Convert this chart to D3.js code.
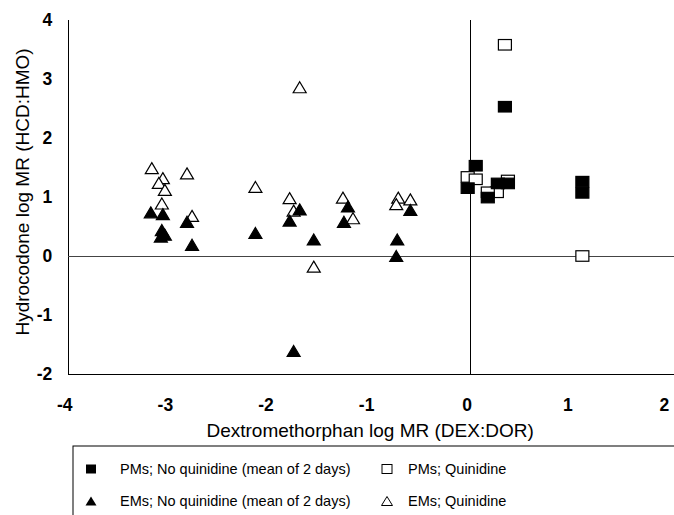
<!DOCTYPE html>
<html><head><meta charset="utf-8">
<script src="https://cdn.jsdelivr.net/npm/d3@7"></script>
<style>body{margin:0;background:#fff}svg{display:block}text{font-family:"Liberation Sans",Arial,sans-serif;fill:#000}</style>
</head><body>
<svg id="c" width="674" height="515"></svg>
<script>
// Data (x = Dextromethorphan log MR, y = Hydrocodone log MR)
const pmNoQx = [0.05, -0.03, 0.27, 0.37, 0.17, 0.34, 1.11, 1.11];
const pmNoQy = [1.53, 1.15, 1.23, 1.23, 0.99, 2.53, 1.26, 1.07];
const pmQx = [-0.03, 0.05, 0.37, 0.26, 0.17, 0.34, 1.11];
const pmQy = [1.34, 1.30, 1.28, 1.08, 1.08, 3.58, 0.00];
const emNoQx = [-3.18, -3.06, -2.82, -3.07, -3.04, -3.08, -2.77, -2.14, -1.70, -1.80, -1.56, -1.22, -1.26, -0.60, -0.73, -0.74, -1.76];
const emNoQy = [0.74, 0.71, 0.58, 0.44, 0.36, 0.33, 0.19, 0.39, 0.79, 0.60, 0.28, 0.84, 0.58, 0.78, 0.28, 0.00, -1.61];
const emQx = [-3.17, -2.82, -3.06, -3.10, -3.04, -3.07, -2.77, -2.14, -1.80, -1.76, -1.27, -1.56, -1.17, -0.72, -0.74, -0.60, -1.70];
const emQy = [1.49, 1.40, 1.32, 1.24, 1.12, 0.89, 0.68, 1.17, 0.98, 0.77, 0.99, -0.18, 0.64, 0.99, 0.88, 0.96, 2.86];
const xTicks = [-4, -3, -2, -1, 0, 1, 2];
const yTicks = [-2, -1, 0, 1, 2, 3, 4];
const xTitle = "Dextromethorphan log MR (DEX:DOR)";
const yTitle = "Hydrocodone log MR (HCD:HMO)";
const legendLabels = ["PMs; No quinidine (mean of 2 days)", "PMs; Quinidine", "EMs; No quinidine (mean of 2 days)", "EMs; Quinidine"];

const svg = d3.select("#c");
const x = d3.scaleLinear().domain([-4, 2]).range([68.3, 671.9]);
const y = d3.scaleLinear().domain([-2, 4]).range([374, 20]);
const fmt = d => String(d);

// axes
const gx = svg.append("g").attr("transform", `translate(0,${y(-2)})`)
  .call(d3.axisBottom(x).tickValues(xTicks).tickSize(0).tickPadding(25).tickFormat(fmt));
gx.select(".domain").remove();
gx.selectAll("text").style("font-size", "17.5px").style("font-weight", "bold").style("font-family", "Liberation Sans, Arial, sans-serif")
  .attr("dx", d => d === 2 ? -8 : -4);
const gy = svg.append("g").attr("transform", `translate(${x(-4)},0)`)
  .call(d3.axisLeft(y).tickValues(yTicks).tickSize(0).tickPadding(16).tickFormat(fmt));
gy.select(".domain").remove();
gy.selectAll("text").style("font-size", "17.5px").style("font-weight", "bold").style("font-family", "Liberation Sans, Arial, sans-serif");

const line = (x1, y1, x2, y2) => svg.append("line").attr("x1", x1).attr("y1", y1).attr("x2", x2).attr("y2", y2)
  .attr("stroke", "#000").attr("stroke-width", 1).attr("shape-rendering", "crispEdges");
line(x(-4), y(4), x(-4), y(-2));
line(x(-4), y(-2), 674, y(-2));
line(x(-4), y(0), 674, y(0)).attr("stroke", "#444");
line(x(0), y(4), x(0), y(-2));

// titles
svg.append("text").attr("x", (x(-4) + x(2)) / 2).attr("y", 437).attr("text-anchor", "middle")
  .style("font-size", "19px").text(xTitle);
svg.append("text").attr("transform", `translate(29,${(y(4) + y(-2)) / 2 - 5}) rotate(-90)`).attr("text-anchor", "middle")
  .style("font-size", "19px").text(yTitle);

// symbols
const sqW = 13, sqH = 10.5, trW = 13, trH = 11;
const tri = (w, h) => `M0,${-h / 2}L${w / 2},${h / 2}L${-w / 2},${h / 2}Z`;
function squares(xs, ys, filled) {
  svg.append("g").selectAll("rect").data(xs.map((v, i) => [v, ys[i]])).join("rect")
    .attr("x", d => x(d[0]) - sqW / 2).attr("y", d => y(d[1]) - sqH / 2)
    .attr("width", sqW).attr("height", sqH)
    .attr("fill", filled ? "#000" : "#fff").attr("stroke", "#000").attr("stroke-width", 1.2);
}
function triangles(xs, ys, filled) {
  svg.append("g").selectAll("path").data(xs.map((v, i) => [v, ys[i]])).join("path")
    .attr("transform", d => `translate(${x(d[0])},${y(d[1])})`).attr("d", tri(trW, trH))
    .attr("fill", filled ? "#000" : "#fff").attr("stroke", "#000").attr("stroke-width", 1.2);
}
squares(pmQx, pmQy, false);
triangles(emQx, emQy, false);
squares(pmNoQx, pmNoQy, true);
triangles(emNoQx, emNoQy, true);

// legend
svg.append("rect").attr("x", 73).attr("y", 446).attr("width", 700).attr("height", 120)
  .attr("fill", "none").attr("stroke", "#000").attr("stroke-width", 1);
const rows = [469, 501];
const cols = [[91, 120], [387, 408]];
const lg = svg.append("g");
lg.append("rect").attr("x", cols[0][0] - 5).attr("y", rows[0] - 4.5).attr("width", 10).attr("height", 9).attr("fill", "#000");
lg.append("rect").attr("x", cols[1][0] - 5).attr("y", rows[0] - 4.5).attr("width", 10).attr("height", 9).attr("fill", "#fff").attr("stroke", "#000").attr("stroke-width", 1);
lg.append("path").attr("transform", `translate(${cols[0][0]},${rows[1]})`).attr("d", tri(11, 9)).attr("fill", "#000");
lg.append("path").attr("transform", `translate(${cols[1][0]},${rows[1]})`).attr("d", tri(11, 9)).attr("fill", "#fff").attr("stroke", "#000").attr("stroke-width", 1);
legendLabels.forEach((t, i) => {
  lg.append("text").attr("x", cols[i % 2][1]).attr("y", rows[Math.floor(i / 2)]).attr("dy", "0.35em")
    .style("font-size", "14.5px").text(t);
});
</script>
</body></html>
